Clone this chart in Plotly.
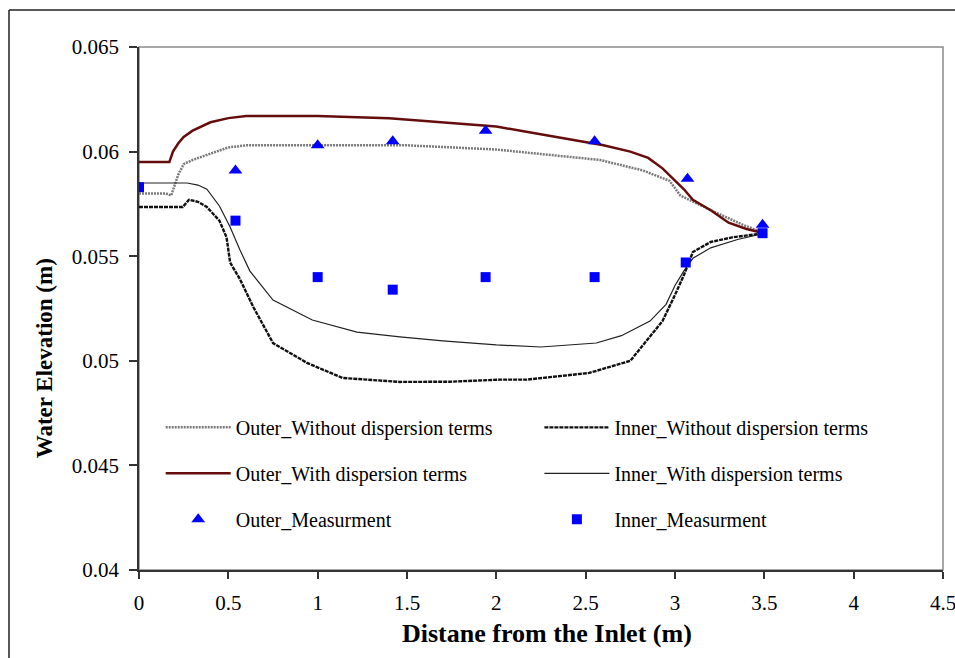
import plotly.graph_objects as go

# ---- data ----
outer_wo_x = [0, 0.15, 0.18, 0.22, 0.25, 0.3, 0.4, 0.5, 0.6, 1.0, 1.5, 2.0, 2.36, 2.58, 2.82, 2.97, 3.03, 3.1, 3.2, 3.38, 3.5]
outer_wo_y = [0.0580, 0.0580, 0.0579, 0.0589, 0.0594, 0.0596, 0.0599, 0.0602, 0.0603, 0.0603, 0.0603, 0.0601, 0.0598, 0.0596, 0.0591, 0.0586, 0.0579, 0.0576, 0.0572, 0.0565, 0.0561]

outer_w_x = [0, 0.17, 0.19, 0.22, 0.25, 0.3, 0.4, 0.5, 0.6, 1.0, 1.4, 1.7, 2.0, 2.2, 2.4, 2.6, 2.75, 2.85, 2.93, 3.0, 3.05, 3.1, 3.2, 3.3, 3.4, 3.5]
outer_w_y = [0.0595, 0.0595, 0.0600, 0.0604, 0.0607, 0.0610, 0.0614, 0.0616, 0.0617, 0.0617, 0.0616, 0.0614, 0.0612, 0.0609, 0.0606, 0.0603, 0.0600, 0.0597, 0.0592, 0.0586, 0.0582, 0.0577, 0.0572, 0.0566, 0.0563, 0.0561]

inner_wo_x = [0, 0.245, 0.28, 0.33, 0.38, 0.45, 0.49, 0.51, 0.565, 0.64, 0.75, 0.94, 1.14, 1.46, 1.74, 2.02, 2.17, 2.52, 2.75, 2.93, 3.0, 3.05, 3.1, 3.2, 3.32, 3.5]
inner_wo_y = [0.05735, 0.05735, 0.0577, 0.0576, 0.05735, 0.0567, 0.0559, 0.0547, 0.0539, 0.05257, 0.05085, 0.0499, 0.04918, 0.04899, 0.0490, 0.0491, 0.0491, 0.04942, 0.0500, 0.0519, 0.05315, 0.0541, 0.0552, 0.05568, 0.0559, 0.0561]

inner_w_x = [0, 0.27, 0.33, 0.38, 0.45, 0.51, 0.565, 0.62, 0.75, 0.97, 1.22, 1.46, 1.7, 2.0, 2.25, 2.56, 2.7, 2.86, 2.95, 3.0, 3.05, 3.1, 3.2, 3.35, 3.5]
inner_w_y = [0.0585, 0.0585, 0.0584, 0.0582, 0.0574, 0.0564, 0.0553, 0.0543, 0.0529, 0.05195, 0.05137, 0.05114, 0.05095, 0.05076, 0.05066, 0.05085, 0.0512, 0.0519, 0.0527, 0.0536, 0.0543, 0.0549, 0.0554, 0.0558, 0.0561]

outer_meas_x = [0.54, 1.0, 1.42, 1.94, 2.55, 3.07, 3.49]
outer_meas_y = [0.0591, 0.0603, 0.0605, 0.0610, 0.0605, 0.0587, 0.0565]

inner_meas_x = [0.0, 0.54, 1.0, 1.42, 1.94, 2.55, 3.06, 3.49]
inner_meas_y = [0.0583, 0.0567, 0.0540, 0.0534, 0.0540, 0.0540, 0.0547, 0.0561]

x_ticks = [0, 0.5, 1, 1.5, 2, 2.5, 3, 3.5, 4, 4.5]
y_ticks = [0.04, 0.045, 0.05, 0.055, 0.06, 0.065]

x_title = "Distane from the Inlet (m)"
y_title = "Water Elevation (m)"

FONT = "Times New Roman, Liberation Serif, serif"

fig = go.Figure()

fig.add_trace(go.Scatter(x=outer_wo_x, y=outer_wo_y, mode="lines", name="Outer_Without dispersion terms",
                         line=dict(color="#7a7a7a", width=2.5, dash="2px,1px"),
                         legend="legend", legendgroup="a1", legendrank=1))
fig.add_trace(go.Scatter(x=inner_wo_x, y=inner_wo_y, mode="lines", name="Inner_Without dispersion terms",
                         line=dict(color="#111111", width=2.4, dash="4px,1px"),
                         legend="legend2", legendgroup="b1", legendrank=1))
fig.add_trace(go.Scatter(x=outer_w_x, y=outer_w_y, mode="lines", name="Outer_With dispersion terms",
                         line=dict(color="#650d0d", width=2.5),
                         legend="legend", legendgroup="a2", legendrank=2))
fig.add_trace(go.Scatter(x=inner_w_x, y=inner_w_y, mode="lines", name="Inner_With dispersion terms",
                         line=dict(color="#222222", width=1.2),
                         legend="legend2", legendgroup="b2", legendrank=2))
fig.add_trace(go.Scatter(x=outer_meas_x, y=outer_meas_y, mode="markers", name="Outer_Measurment",
                         marker=dict(symbol="triangle-up", color="#0000ff", size=12, line=dict(width=0)),
                         legend="legend", legendgroup="a3", legendrank=3))
fig.add_trace(go.Scatter(x=inner_meas_x, y=inner_meas_y, mode="markers", name="Inner_Measurment",
                         marker=dict(symbol="square", color="#0000ff", size=10, line=dict(width=0)),
                         legend="legend2", legendgroup="b3", legendrank=3))

legend_common = dict(
    font=dict(family=FONT, size=20, color="black"),
    bgcolor="rgba(0,0,0,0)",
    orientation="v",
    traceorder="grouped",
    tracegroupgap=17,
    itemwidth=65,
    yanchor="top",
    xanchor="left",
)

fig.update_layout(
    width=955, height=658,
    margin=dict(l=139, r=12, t=47, b=88, autoexpand=False),
    paper_bgcolor="white",
    plot_bgcolor="white",
    font=dict(family=FONT, size=20, color="black"),
    showlegend=True,
    legend=dict(x=0.027, y=0.31, **legend_common),
    legend2=dict(x=0.498, y=0.31, **legend_common),
    xaxis=dict(
        range=[0, 4.5], tickvals=x_ticks, ticks="outside", ticklen=7, tickwidth=1.5,
        tickcolor="#333", showline=True, linecolor="#333", linewidth=1.5,
        showgrid=False, zeroline=False, ticklabeloverflow="allow", ticklabelstandoff=6,
        automargin=False,
        tickfont=dict(family=FONT, size=21, color="black"),
    ),
    yaxis=dict(
        range=[0.04, 0.065], tickvals=y_ticks, ticks="outside", ticklen=8, tickwidth=1.5,
        tickcolor="#333", showline=True, linecolor="#333", linewidth=1.5,
        showgrid=False, zeroline=False, ticklabelstandoff=6, automargin=False,
        tickfont=dict(family=FONT, size=21, color="black"),
    ),
    annotations=[
        dict(text="<b>" + x_title + "</b>", xref="paper", yref="paper", x=0.507, y=-0.1205,
             xanchor="center", yanchor="middle", showarrow=False,
             font=dict(family=FONT, size=26, color="black")),
        dict(text="<b>" + y_title + "</b>", xref="paper", yref="paper", x=-0.118, y=0.405,
             xanchor="center", yanchor="middle", showarrow=False, textangle=-90,
             font=dict(family=FONT, size=23, color="black")),
    ],
    shapes=[
        dict(type="rect", xref="paper", yref="paper", x0=0, x1=1, y0=0, y1=1,
             line=dict(color="#8a8a8a", width=1.5), layer="below"),
        dict(type="line", xref="paper", yref="paper", x0=-0.1617, x1=1.02, y0=1.0707, y1=1.0707,
             line=dict(color="#222", width=1.5)),
        dict(type="line", xref="paper", yref="paper", x0=-0.1617, x1=-0.1617, y0=1.0707, y1=-0.2,
             line=dict(color="#222", width=1.5)),
    ],
)

fig.write_html(
    "out.html",
    config={"displayModeBar": False},
    post_script="document.body.style.margin='0';document.body.style.overflow='hidden';",
)
